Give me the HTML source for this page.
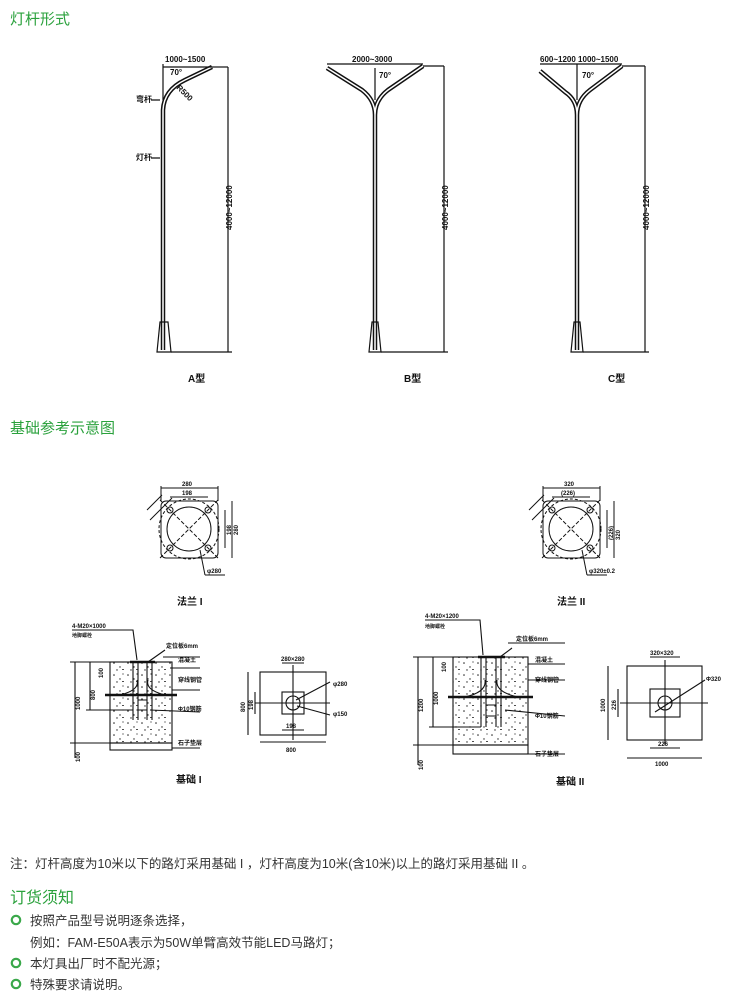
<!DOCTYPE html>
<html><head><meta charset="utf-8"><style>
body{margin:0;background:#fff;width:750px;height:1007px;overflow:hidden;font-family:"Liberation Sans","Noto Sans CJK SC",sans-serif}
svg{position:absolute;left:0;top:0}
.t{font-family:"Liberation Sans","Noto Sans CJK SC",sans-serif}
</style></head><body>
<svg width="750" height="1007" viewBox="0 0 750 1007">
<defs>
<pattern id="sp" width="14" height="12" patternUnits="userSpaceOnUse">
<circle cx="2" cy="3" r="0.8" fill="#222"/><circle cx="8" cy="7" r="0.7" fill="#222"/><circle cx="11" cy="2" r="0.6" fill="#222"/><circle cx="5" cy="10" r="0.7" fill="#222"/><rect x="10" y="9" width="2" height="0.8" fill="#222"/>
</pattern>
</defs>
<g class="t" fill="#2aa13c" font-size="15"><text x="10" y="24">灯杆形式</text><text x="10" y="433">基础参考示意图</text><text x="10" y="903" font-size="16">订货须知</text></g>
<g stroke="#111" fill="none" stroke-width="1.2">
<!-- Pole A -->
<path d="M163 350 L163 110 Q164 90 185 80 L212 67" stroke-width="4.5"/>
<path d="M163 350 L163 110 Q164 90 185 80 L212 67" stroke="#fff" stroke-width="1.5"/>
<path d="M157 352 L160 322 L168 322 L171 352 Z"/>
<line x1="212" y1="67" x2="228" y2="67"/><line x1="228" y1="67" x2="228" y2="352"/><line x1="171" y1="352" x2="232" y2="352"/>
<line x1="163" y1="67" x2="212" y2="67"/><line x1="163" y1="64" x2="163" y2="100"/>
<path d="M151 100 L160 100 M151 158 L160 158"/>
<!-- Pole B -->
<path d="M375 350 L375 115 Q375 100 362 90 L327 68 M375 115 Q375 100 388 90 L423 66" stroke-width="4.5"/>
<path d="M375 350 L375 115 Q375 100 362 90 L327 68 M375 115 Q375 100 388 90 L423 66" stroke="#fff" stroke-width="1.5"/>
<path d="M369 352 L372 322 L378 322 L381 352 Z"/>
<line x1="327" y1="64" x2="423" y2="64"/><line x1="423" y1="66" x2="444" y2="66"/><line x1="444" y1="66" x2="444" y2="352"/><line x1="381" y1="352" x2="448" y2="352"/>
<line x1="375" y1="68" x2="375" y2="100"/>
<!-- Pole C -->
<path d="M577 350 L577 115 Q577 100 565 92 L540 71 M577 115 Q577 100 590 90 L622 66" stroke-width="4.5"/>
<path d="M577 350 L577 115 Q577 100 565 92 L540 71 M577 115 Q577 100 590 90 L622 66" stroke="#fff" stroke-width="1.5"/>
<path d="M571 352 L574 322 L580 322 L583 352 Z"/>
<line x1="540" y1="64" x2="622" y2="64"/><line x1="622" y1="66" x2="645" y2="66"/><line x1="645" y1="66" x2="645" y2="352"/><line x1="583" y1="352" x2="649" y2="352"/>
<line x1="577" y1="64" x2="577" y2="100"/>
</g>
<g class="t" font-size="8" fill="#111" font-weight="bold">
<text x="165" y="62">1000~1500</text><text x="170" y="75">70°</text>
<text x="176" y="88" transform="rotate(45 176 88)">R500</text>
<text x="136" y="102">弯杆</text><text x="136" y="160">灯杆</text>
<text transform="translate(232,230) rotate(-90)">4000~12000</text>
<text x="352" y="62">2000~3000</text><text x="379" y="78">70°</text>
<text transform="translate(448,230) rotate(-90)">4000~12000</text>
<text x="540" y="62">600~1200 1000~1500</text><text x="582" y="78">70°</text>
<text transform="translate(649,230) rotate(-90)">4000~12000</text>
</g>
<g class="t" font-size="10" font-weight="bold" fill="#111"><text x="188" y="382">A型</text><text x="404" y="382">B型</text><text x="608" y="382">C型</text>
<text x="177" y="605">法兰 I</text><text x="557" y="605">法兰 II</text>
<text x="176" y="783">基础 I</text><text x="556" y="785">基础 II</text></g>
<!-- Flanges -->
<g stroke="#111" fill="none" stroke-width="1">
<g id="fl">
<rect x="161" y="501" width="57" height="57" rx="5"/>
<circle cx="189" cy="529" r="22"/><circle cx="189" cy="529" r="30" stroke-dasharray="3 2"/>
<circle cx="170" cy="510" r="3"/><circle cx="208" cy="510" r="3"/><circle cx="170" cy="548" r="3"/><circle cx="208" cy="548" r="3"/>
<line x1="160" y1="500" x2="218" y2="558" stroke-dasharray="4 2"/><line x1="218" y1="500" x2="160" y2="558" stroke-dasharray="4 2"/>
<line x1="161" y1="488" x2="218" y2="488"/><line x1="161" y1="486" x2="161" y2="501"/><line x1="218" y1="486" x2="218" y2="501"/>
<line x1="170" y1="497" x2="208" y2="497"/>
<line x1="232" y1="501" x2="232" y2="558"/><line x1="225" y1="510" x2="225" y2="548"/>
<line x1="150" y1="520" x2="172" y2="498"/><line x1="147" y1="510" x2="162" y2="495"/>
<line x1="200" y1="550" x2="205" y2="575"/><line x1="205" y1="575" x2="225" y2="575"/>
</g>
<use href="#fl" x="382"/>
</g>
<g class="t" font-size="6" fill="#111" font-weight="bold">
<text x="182" y="486">280</text><text x="182" y="495">198</text><text transform="translate(238,535) rotate(-90)">280</text><text transform="translate(231,535) rotate(-90)">198</text><text x="207" y="573">φ280</text>
<text x="564" y="486">320</text><text x="561" y="495">(226)</text><text transform="translate(620,540) rotate(-90)">320</text><text transform="translate(613,540) rotate(-90)">(226)</text><text x="589" y="573">φ320±0.2</text>
</g>
<!-- Foundation I -->
<rect x="110" y="662" width="62" height="81" fill="url(#sp)"/>
<g stroke="#111" fill="none" stroke-width="1.1">
<rect x="110" y="662" width="62" height="81"/><rect x="110" y="743" width="62" height="7"/>
<line x1="105" y1="695" x2="177" y2="695" stroke-width="2.5"/>
<path d="M133 662 L133 720 M138 662 L138 720 M147 662 L147 720 M152 662 L152 720 M138 700 L147 700 M138 710 L147 710"/>
<path d="M137 680 Q140 690 120 695 M148 680 Q145 690 165 695"/>
<path d="M130 662 L155 662" stroke-width="2.5"/>
<line x1="90" y1="662" x2="90" y2="710"/><line x1="75" y1="662" x2="75" y2="743"/><line x1="75" y1="743" x2="75" y2="758"/>
<line x1="70" y1="662" x2="110" y2="662"/><line x1="70" y1="743" x2="110" y2="743"/>
<line x1="86" y1="710" x2="133" y2="710"/>
<path d="M72 630 L133 630 L137 660 M165 650 L148 662 M163 657 L200 657 M170 668 L200 668 M172 690 L200 690 M150 710 L200 712 M172 748 L200 748"/>
<rect x="260" y="672" width="66" height="63"/><rect x="282" y="692" width="22" height="22"/><circle cx="293" cy="703" r="7"/>
<line x1="293" y1="665" x2="293" y2="740"/><line x1="255" y1="703" x2="330" y2="703"/>
<line x1="282" y1="663" x2="304" y2="663"/><line x1="260" y1="742" x2="326" y2="742"/><line x1="282" y1="730" x2="304" y2="730"/>
<line x1="248" y1="672" x2="248" y2="735"/><line x1="255" y1="692" x2="255" y2="714"/>
<path d="M296 700 L330 682 M297 706 L330 715"/>
</g>
<g class="t" font-size="6" fill="#111" font-weight="bold">
<text x="72" y="628">4-M20×1000</text><text x="72" y="637" font-size="5">地脚螺栓</text>
<text x="166" y="648">定位板6mm</text><text x="178" y="662">混凝土</text><text x="178" y="682">穿线钢管</text><text x="178" y="711">Φ10钢筋</text><text x="178" y="745">石子垫层</text>
<text transform="translate(80,710) rotate(-90)">1000</text><text transform="translate(95,700) rotate(-90)">800</text><text transform="translate(80,762) rotate(-90)">100</text><text transform="translate(103,678) rotate(-90)">100</text>
<text x="281" y="661">280×280</text><text x="333" y="686">φ280</text><text x="333" y="716">φ150</text>
<text transform="translate(245,712) rotate(-90)">800</text><text transform="translate(253,710) rotate(-90)">198</text>
<text x="286" y="728">198</text><text x="286" y="752">800</text>
</g>
<!-- Foundation II -->
<rect x="453" y="657" width="75" height="88" fill="url(#sp)"/>
<g stroke="#111" fill="none" stroke-width="1.1">
<rect x="453" y="657" width="75" height="88"/><rect x="453" y="745" width="75" height="9"/>
<line x1="448" y1="697" x2="533" y2="697" stroke-width="2.5"/>
<path d="M481 657 L481 727 M486 657 L486 727 M496 657 L496 727 M501 657 L501 727 M486 705 L496 705 M486 716 L496 716"/>
<path d="M485 680 Q487 692 465 697 M497 680 Q495 692 518 697"/>
<path d="M478 657 L505 657" stroke-width="2.5"/>
<line x1="433" y1="657" x2="433" y2="727"/><line x1="418" y1="657" x2="418" y2="745"/><line x1="418" y1="745" x2="418" y2="765"/>
<line x1="413" y1="657" x2="453" y2="657"/><line x1="413" y1="745" x2="453" y2="745"/>
<line x1="429" y1="727" x2="481" y2="727"/>
<path d="M425 620 L480 620 L483 655 M512 648 L500 657 M508 643 L565 643 M528 664 L565 664 M528 680 L565 680 M505 710 L565 716 M528 754 L565 754"/>
<rect x="627" y="666" width="75" height="74"/><rect x="650" y="689" width="30" height="28"/><circle cx="665" cy="703" r="7"/>
<line x1="665" y1="660" x2="665" y2="745"/><line x1="620" y1="703" x2="708" y2="703"/>
<line x1="650" y1="657" x2="680" y2="657"/><line x1="627" y1="758" x2="702" y2="758"/><line x1="650" y1="748" x2="680" y2="748"/>
<line x1="608" y1="666" x2="608" y2="740"/><line x1="618" y1="689" x2="618" y2="717"/>
<path d="M655 712 L705 680"/>
</g>
<g class="t" font-size="6" fill="#111" font-weight="bold">
<text x="425" y="618">4-M20×1200</text><text x="425" y="628" font-size="5">地脚螺栓</text>
<text x="516" y="641">定位板6mm</text><text x="535" y="662">混凝土</text><text x="535" y="682">穿线钢管</text><text x="535" y="718">Φ10钢筋</text><text x="535" y="756">石子垫层</text>
<text transform="translate(423,712) rotate(-90)">1200</text><text transform="translate(438,705) rotate(-90)">1000</text><text transform="translate(423,770) rotate(-90)">100</text><text transform="translate(446,672) rotate(-90)">100</text>
<text x="650" y="655">320×320</text><text x="706" y="681">Φ320</text>
<text transform="translate(605,712) rotate(-90)">1000</text><text transform="translate(616,710) rotate(-90)">226</text>
<text x="658" y="746">226</text><text x="655" y="766">1000</text>
</g>
<g class="t" font-size="12.5" fill="#333">
<text x="10" y="868">注：灯杆高度为10米以下的路灯采用基础 I ，灯杆高度为10米(含10米)以上的路灯采用基础 II 。</text>
<text x="30" y="925">按照产品型号说明逐条选择，</text>
<text x="30" y="947">例如：FAM-E50A表示为50W单臂高效节能LED马路灯；</text>
<text x="30" y="968">本灯具出厂时不配光源；</text>
<text x="30" y="989">特殊要求请说明。</text>
</g>
<g fill="none" stroke="#3aa84a" stroke-width="2.2"><circle cx="16" cy="920" r="4.2"/><circle cx="16" cy="963" r="4.2"/><circle cx="16" cy="984" r="4.2"/></g>
</svg>
</body></html>
